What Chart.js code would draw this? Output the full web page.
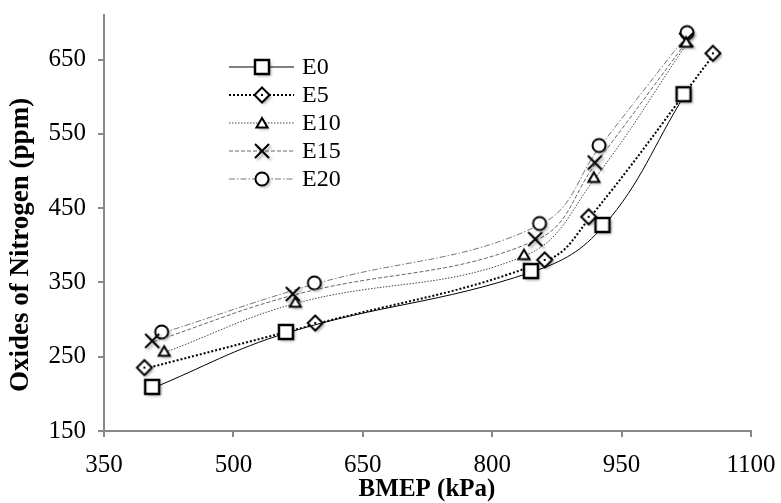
<!DOCTYPE html>
<html>
<head>
<meta charset="utf-8">
<script src="https://cdn.jsdelivr.net/npm/chart.js@4.4.1/dist/chart.umd.min.js"></script>
<style>
  html, body { margin: 0; padding: 0; background: #fff; }
  #wrap { width: 781px; height: 503px; }
</style>
</head>
<body>
<div id="wrap"><canvas id="noxChart" width="781" height="503"></canvas></div>
<script>
/* =========================
   DATA
========================= */
const X_TICKS = [350, 500, 650, 800, 950, 1100];
const Y_TICKS = [150, 250, 350, 450, 550, 650];
const SERIES_NAMES = ["E0", "E5", "E10", "E15", "E20"];

const e0Bmep = [407, 562, 846, 929, 1023];
const e0Nox = [208, 282, 364, 426, 602];
const e5Bmep = [398, 596, 862, 913, 1057];
const e5Nox = [234, 294, 379, 437, 657];
const e10Bmep = [421, 573, 838, 919, 1026];
const e10Nox = [256, 322, 386, 490, 672];
const e15Bmep = [407, 570, 851, 920, 1026];
const e15Nox = [270, 333, 407, 510, 675];
const e20Bmep = [418, 595, 856, 925, 1027];
const e20Nox = [282, 348, 428, 533, 685];

const FONT = "'Liberation Serif', 'Times New Roman', serif";

/* =========================
   MARKERS
========================= */
function makeMarker(kind) {
  const s = 26, c = s / 2 - 1;
  const cv = document.createElement("canvas");
  cv.width = s; cv.height = s;
  const g = cv.getContext("2d");
  g.strokeStyle = "#000";
  g.fillStyle = "#fff";
  g.lineWidth = 2;
  g.beginPath();
  if (kind === "square") {
    g.rect(c - 7, c - 7, 14, 14);
    g.lineWidth = 2.5;
  } else if (kind === "diamond") {
    g.moveTo(c, c - 7.5); g.lineTo(c + 7.5, c); g.lineTo(c, c + 7.5); g.lineTo(c - 7.5, c); g.closePath();
  } else if (kind === "triangle") {
    g.moveTo(c, c - 5); g.lineTo(c + 5.5, c + 4.5); g.lineTo(c - 5.5, c + 4.5); g.closePath();
  } else if (kind === "circle") {
    g.arc(c, c, 6.5, 0, Math.PI * 2);
  } else if (kind === "cross") {
    g.moveTo(c - 7, c - 7); g.lineTo(c + 7, c + 7);
    g.moveTo(c + 7, c - 7); g.lineTo(c - 7, c + 7);
  }
  g.shadowColor = "rgba(0,0,0,0.35)";
  g.shadowBlur = 3;
  g.shadowOffsetX = 2;
  g.shadowOffsetY = 2;
  if (kind === "cross") {
    g.stroke();
  } else {
    g.fill();
    g.shadowColor = "transparent";
    g.stroke();
  }
  if (kind === "diamond") {
    g.fillStyle = "#000";
    g.fillRect(c - 1, c - 1, 2, 2);
  }
  return cv;
}

const STYLES = [
  { marker: makeMarker("square"), color: "#000", width: 1, dash: [] },
  { marker: makeMarker("diamond"), color: "#000", width: 2, dash: [2, 2] },
  { marker: makeMarker("triangle"), color: "#444", width: 1, dash: [1.5, 1.5] },
  { marker: makeMarker("cross"), color: "#666", width: 1, dash: [4, 2] },
  { marker: makeMarker("circle"), color: "#777", width: 1, dash: [6, 2, 1.5, 2] }
];

const SERIES = [
  [e0Bmep, e0Nox], [e5Bmep, e5Nox], [e10Bmep, e10Nox], [e15Bmep, e15Nox], [e20Bmep, e20Nox]
];

const datasets = SERIES.map(([xs, ys], i) => ({
  label: SERIES_NAMES[i],
  data: xs.map((x, k) => ({ x, y: ys[k] })),
  showLine: true,
  borderColor: STYLES[i].color,
  borderWidth: STYLES[i].width,
  borderDash: STYLES[i].dash,
  tension: 0.4,
  pointStyle: STYLES[i].marker,
  pointRadius: 7,
  fill: false
}));

/* =========================
   PLUGINS
========================= */
const legendPlugin = {
  id: "lineLegend",
  afterDraw(chart) {
    const ctx = chart.ctx;
    ctx.save();
    SERIES_NAMES.forEach((name, i) => {
      const y = 67 + i * 28;
      const st = STYLES[i];
      ctx.beginPath();
      ctx.strokeStyle = st.color;
      ctx.lineWidth = st.width;
      ctx.setLineDash(st.dash);
      ctx.moveTo(229, y);
      ctx.lineTo(294, y);
      ctx.stroke();
      ctx.setLineDash([]);
      ctx.drawImage(st.marker, 262 - st.marker.width / 2 + 1, y - st.marker.height / 2 + 1);
      ctx.fillStyle = "#000";
      ctx.font = "24px " + FONT;
      ctx.textBaseline = "middle";
      ctx.textAlign = "left";
      ctx.fillText(name, 302, y + 1);
    });
    ctx.restore();
  }
};

const titlePlugin = {
  id: "axisTitles",
  afterDraw(chart) {
    const ctx = chart.ctx;
    ctx.save();
    ctx.fillStyle = "#000";
    ctx.textAlign = "center";
    ctx.textBaseline = "middle";
    ctx.font = "bold 25px " + FONT;
    ctx.fillText("BMEP (kPa)", 427, 490);
    ctx.font = "bold 27px " + FONT;
    ctx.translate(21, 245);
    ctx.rotate(-Math.PI / 2);
    ctx.fillText("Oxides of Nitrogen (ppm)", 0, 0);
    ctx.restore();
  }
};

/* =========================
   CHART
========================= */
const axisGrid = {
  display: true,
  drawOnChartArea: false,
  drawTicks: true,
  tickLength: 6,
  color: "#888",
  lineWidth: 2
};

new Chart(document.getElementById("noxChart"), {
  type: "scatter",
  data: { datasets },
  options: {
    responsive: false,
    animation: false,
    layout: { padding: { left: 0, right: 30, top: 15, bottom: 0 } },
    plugins: {
      legend: { display: false },
      tooltip: { enabled: false }
    },
    scales: {
      x: {
        type: "linear",
        min: X_TICKS[0],
        max: X_TICKS[X_TICKS.length - 1],
        afterBuildTicks: s => { s.ticks = X_TICKS.map(v => ({ value: v })); },
        afterFit: s => { s.height = 72; s.paddingLeft = 0; s.paddingRight = 0; },
        grid: axisGrid,
        border: { display: true, color: "#888", width: 2 },
        ticks: { color: "#000", font: { family: FONT, size: 25 }, padding: 13, maxRotation: 0, callback: v => String(v) }
      },
      y: {
        type: "linear",
        min: 150,
        max: 710,
        afterBuildTicks: s => { s.ticks = Y_TICKS.map(v => ({ value: v })); },
        afterFit: s => { s.width = 104; s.paddingTop = 0; s.paddingBottom = 0; },
        grid: axisGrid,
        border: { display: true, color: "#888", width: 2 },
        ticks: { color: "#000", font: { family: FONT, size: 25 }, padding: 12, callback: v => String(v) }
      }
    }
  },
  plugins: [legendPlugin, titlePlugin]
});
</script>
</body>
</html>
